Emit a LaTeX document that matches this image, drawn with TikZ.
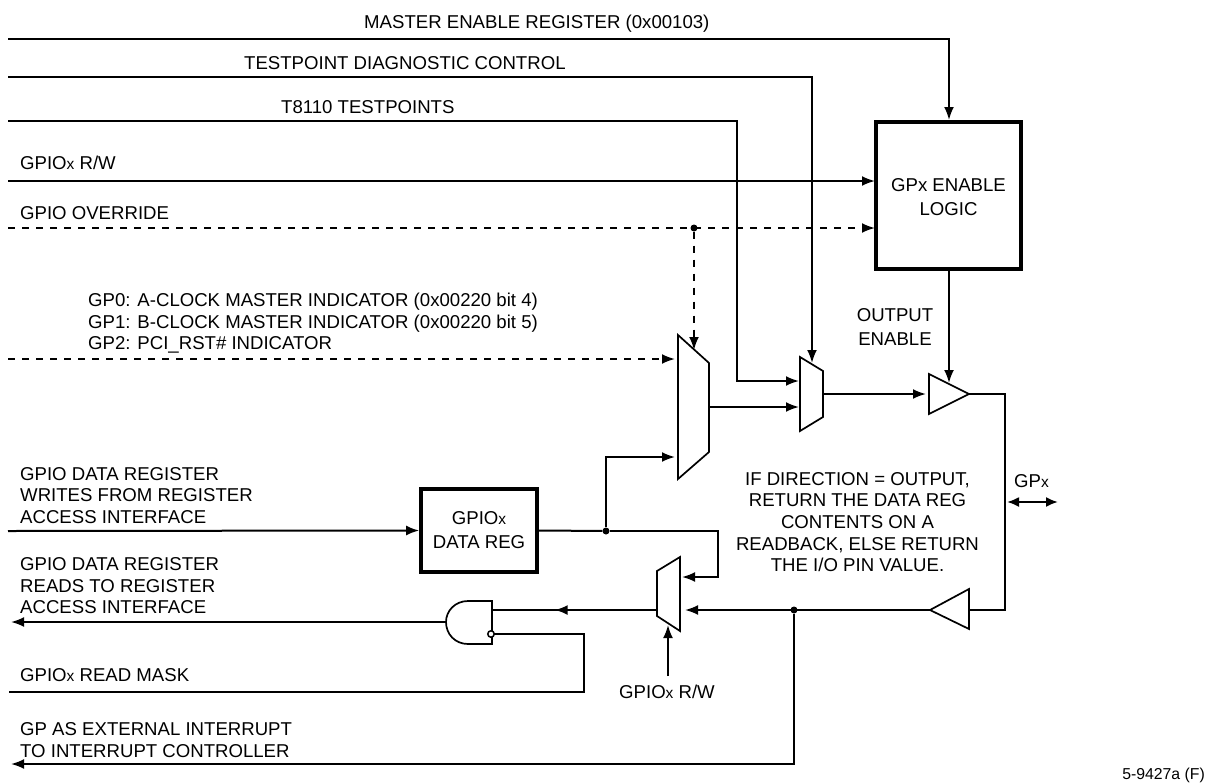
\documentclass[tikz,border=0pt]{standalone}
\usepackage{fontspec}
\setmainfont{Liberation Sans}
\usetikzlibrary{arrows.meta,decorations.markings}
\newcommand{\smx}{{\fontsize{15.5}{15.5}\selectfont x}}
\tikzset{
  x=1pt,y=-1pt,
  wire/.style={line width=2pt,line join=miter},
  arr/.style={wire,-{Latex[length=13pt,width=10pt]}},
  dashwire/.style={wire,dash pattern=on 7pt off 7pt},
  dasharr/.style={dashwire,-{Latex[length=13pt,width=10pt]}},
  midleft/.style={postaction={decorate,decoration={markings,mark=at position #1 with {\arrow{Latex[length=13pt,width=10pt]}}}}},
  thick box/.style={draw,line width=3.7pt,align=center,inner sep=0pt},
  gate/.style={line width=1.7pt,line join=miter,fill=white},
  lab/.style={font=\fontsize{18.6}{21.5}\selectfont,inner sep=0pt,align=left,anchor=west},
  clab/.style={font=\fontsize{18.6}{24}\selectfont,inner sep=0pt,align=center},
  jdot/.style={circle,fill=black,inner sep=0pt,minimum size=7pt},
}
\begin{document}
\begin{tikzpicture}
\useasboundingbox[fill=white] (0,0) rectangle (1217,782);

% logic block and register
\node[thick box,minimum width=145pt,minimum height=147pt] (en) at (948.5,195.5) {};
\node[thick box,minimum width=116pt,minimum height=83pt] (reg) at (479,530.5) {};
\node[clab] (enlab) at (948.5,197.5) {GPx ENABLE\\LOGIC};
\node[clab] (reglab) at (479,530) {GPIO\smx\\DATA REG};

% multiplexers
\coordinate (m1a) at (678,335); \coordinate (m1b) at (709,363); \coordinate (m1c) at (709,452); \coordinate (m1d) at (678,479);
\coordinate (m2a) at (800,357); \coordinate (m2b) at (823,371); \coordinate (m2c) at (823,417); \coordinate (m2d) at (800,431);
\coordinate (m3a) at (657,571); \coordinate (m3b) at (680,557); \coordinate (m3c) at (680,631); \coordinate (m3d) at (657,616);
\draw[gate] (m1a) -- (m1b) -- (m1c) -- (m1d) -- cycle;
\draw[gate] (m2a) -- (m2b) -- (m2c) -- (m2d) -- cycle;
\draw[gate] (m3a) -- (m3b) -- (m3c) -- (m3d) -- cycle;

% buffers
\coordinate (b1a) at (929,374); \coordinate (b1b) at (929,414); \coordinate (b1t) at (969,394);
\coordinate (b2a) at (969,589); \coordinate (b2b) at (969,629); \coordinate (b2t) at (930,610);
\draw[gate] (b1a) -- (b1t) -- (b1b) -- cycle;
\draw[gate] (b2a) -- (b2t) -- (b2b) -- cycle;

% AND gate
\coordinate (andtr) at (492,601); \coordinate (andbr) at (492,644); \coordinate (andl) at (446,622);
\draw[gate] (andtr) -- (andbr) -- (468,644) .. controls (455,644) and (446,634) .. (andl) .. controls (446,611) and (455,601) .. (468,601) -- cycle;
\node[circle,draw,fill=white,line width=1.5pt,inner sep=0pt,minimum size=6.5pt] (bub) at (491,634) {};

% junctions
\node[jdot] (j1) at (694,228) {};
\node[jdot] (j2) at (606,531) {};
\node[jdot] (j3) at (794,610) {};

% free ends and bends
\coordinate (s1) at (8,39);   \coordinate (c1) at (949,39); \coordinate (e1) at (949,120);
\coordinate (s2) at (8,77);   \coordinate (c2) at (812,77); \coordinate (e2) at (812,363);
\coordinate (s3) at (8,121);  \coordinate (c3) at (737,121); \coordinate (c3b) at (737,381); \coordinate (e3) at (799,381);
\coordinate (s4) at (8,181);  \coordinate (e4) at (875,181);
\coordinate (s5) at (8,228);  \coordinate (e5) at (875,228);
\coordinate (e5b) at (694,350);
\coordinate (s6) at (8,359);  \coordinate (e6) at (675,359);
\coordinate (s7) at (8,531);
\coordinate (c8) at (606,457); \coordinate (e8) at (675,457);
\coordinate (o1) at (709,407); \coordinate (o1e) at (799,407);
\coordinate (o2) at (823,394); \coordinate (o2e) at (926,394);
\coordinate (oe1) at (949,269); \coordinate (oe2) at (949,383);
\coordinate (c9) at (1005,394); \coordinate (c9b) at (1005,610);
\coordinate (e9) at (685,610);
\coordinate (c10) at (718,531); \coordinate (c10b) at (718,577); \coordinate (e10) at (682,577);
\coordinate (m3o) at (657,610); \coordinate (ando) at (492,610);
\coordinate (s11) at (11,622);
\coordinate (c12) at (584,634); \coordinate (c12b) at (584,692); \coordinate (s12) at (9,692);
\coordinate (c13) at (794,764); \coordinate (s13) at (11,764);
\coordinate (rw0) at (668,676); \coordinate (rw1) at (668,625);
\coordinate (gpa) at (1007,502); \coordinate (gpb) at (1058,502);

% connectors
\draw[arr] (s1) -- (c1) -- (e1);
\draw[arr] (s2) -- (c2) -- (e2);
\draw[arr] (s3) -- (c3) -- (c3b) -- (e3);
\draw[arr] (s4) -- (e4);
\draw[dasharr] (s5) -- (e5);
\draw[dasharr] (j1) -- (e5b);
\draw[dasharr] (s6) -- (e6);
\draw[arr] (s7) -- (reg.west);
\draw[wire] (reg.east) -- (j2);
\draw[arr] (j2) -- (c8) -- (e8);
\draw[arr] (j2) -- (c10) -- (c10b) -- (e10);
\draw[arr] (o1) -- (o1e);
\draw[arr] (o2) -- (o2e);
\draw[arr] (oe1) -- (oe2);
\draw[wire] (b1t) -- (c9) -- (c9b) -- (b2a|-c9b);
\draw[arr] (b2t) -- (e9);
\draw[wire,midleft={0.62}] (m3o) -- (ando);
\draw[arr] (andl) -- (s11);
\draw[wire] (bub) -- (c12) -- (c12b) -- (s12);
\draw[arr] (j3) -- (c13) -- (s13);
\draw[arr] (rw0) -- (rw1);
\draw[wire,{Latex[length=12pt,width=10pt]}-{Latex[length=12pt,width=10pt]}] (gpa) -- (gpb);

% labels
\node[lab] (t1) at (364,23.5) {MASTER ENABLE REGISTER (0x00103)};
\node[lab] (t2) at (244,63) {TESTPOINT DIAGNOSTIC CONTROL};
\node[lab] (t3) at (281,107) {T8110 TESTPOINTS};
\node[lab] (t4) at (20,163) {GPIO\smx{} R/W};
\node[lab] (t5) at (20,213) {GPIO OVERRIDE};
\node[lab] (t6) at (88,323.5) {GP0: A-CLOCK MASTER INDICATOR (0x00220 bit 4)\\GP1: B-CLOCK MASTER INDICATOR (0x00220 bit 5)\\GP2: PCI\_RST\# INDICATOR};
\node[lab] (t7) at (20,495.5) {GPIO DATA REGISTER\\WRITES FROM REGISTER\\ACCESS INTERFACE};
\node[lab] (t8) at (20,586) {GPIO DATA REGISTER\\READS TO REGISTER\\ACCESS INTERFACE};
\node[lab] (t9) at (20,675) {GPIO\smx{} READ MASK};
\node[lab] (t10) at (20,740) {GP AS EXTERNAL INTERRUPT\\TO INTERRUPT CONTROLLER};
\node[clab] (t11) at (895,327) {OUTPUT\\ENABLE};
\node[clab,font=\fontsize{18.6}{21.7}\selectfont] (t12) at (857.5,522) {IF DIRECTION = OUTPUT,\\RETURN THE DATA REG\\CONTENTS ON A\\READBACK, ELSE RETURN\\THE I/O PIN VALUE.};
\node[lab] (t13) at (1014,481) {GP\smx};
\node[clab] (t14) at (667,692) {GPIO\smx{} R/W};
\node[inner sep=0pt,anchor=east,font=\fontsize{15.8}{18}\selectfont] (t15) at (1205,775) {5-9427a (F)};
\end{tikzpicture}
\end{document}
